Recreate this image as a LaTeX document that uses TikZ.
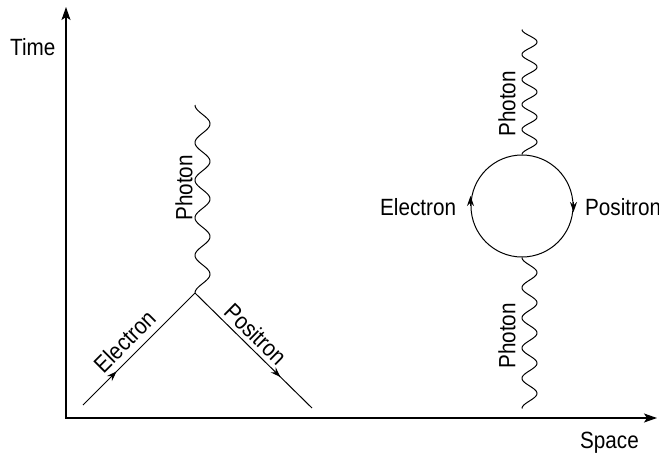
\documentclass[tikz,border=0pt]{standalone}
\usepackage{fontspec}
\setmainfont{Liberation Sans}[FakeStretch=0.88]
\usetikzlibrary{arrows.meta,decorations.markings}
\begin{document}
\begin{tikzpicture}[x=1pt,y=-1pt,
  axis/.style={line width=1.3pt,{Stealth[length=13pt,width=9pt,inset=3pt]}-{Stealth[length=13pt,width=9pt,inset=3pt]}},
  fermion/.style={line width=1pt},
  wave/.style={line width=1pt},
  lbl/.style={font=\fontsize{23.5}{28}\selectfont, inner sep=0pt},
  tiparrow/.style={line width=1pt,-{Stealth[length=10pt,width=7pt]}},
  midarrow/.style={postaction={decorate},decoration={markings,mark=at position #1 with {\arrow{Stealth[length=10pt,width=7pt]}}}}
]
\useasboundingbox (0,0) rectangle (659,453);
% axes
\coordinate (O) at (66,418);
\coordinate (tT) at (66,7);
\coordinate (sT) at (657,418);
\draw[axis] (tT) -- (O) -- (sT);
\node[lbl, anchor=base west] (time) at (10,55) {Time};
\node[lbl, anchor=base west] (space) at (580,448) {Space};
% left diagram
\coordinate (e0) at (83,405);
\coordinate (v) at (195,293);
\coordinate (p1) at (312,408);
\draw[fermion, midarrow=0.3] (e0) -- node[lbl, sloped, above=6.5pt, pos=0.47] (elL) {Electron} (v);
\draw[fermion, midarrow=0.73] (v) -- node[lbl, sloped, above=4pt, pos=0.44] (poL) {Positron} (p1);
\draw[wave, shift={(v)}] plot[domain=0:188, samples=300, smooth] ({7.5-7.5*cos(\x*9.5745)}, {-\x});
\node[lbl, rotate=90] (phL) at (184,188) {Photon};
% right diagram
\node[draw, circle, line width=1pt, minimum size=102pt, inner sep=0pt] (loop) at (522,206) {};
\draw[tiparrow] ([yshift=0pt]loop.west) -- ([yshift=10pt]loop.west);
\draw[tiparrow] ([yshift=4pt]loop.east) -- ([yshift=-6pt]loop.east);
\draw[wave, shift={(loop.north)}] plot[domain=0:125, samples=300, smooth] ({7.5-7.5*cos(\x*14.4)}, {-\x});
\draw[wave, shift={(loop.south)}] plot[domain=0:151, samples=300, smooth] ({7.5-7.5*cos(\x*11.9205)}, {\x});
\node[lbl, rotate=90] (phT) at (507,104) {Photon};
\node[lbl, rotate=90] (phB) at (507,336) {Photon};
\node[lbl, anchor=base west] (elR) at (380,215) {Electron};
\node[lbl, anchor=base west] (poR) at (585,215) {Positron};
\end{tikzpicture}
\end{document}
